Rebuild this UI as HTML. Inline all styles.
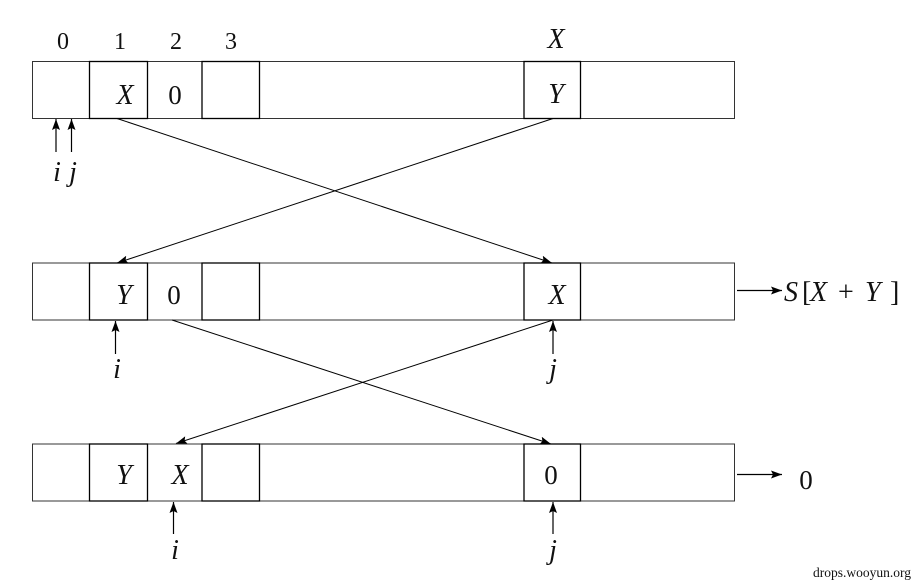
<!DOCTYPE html>
<html>
<head>
<meta charset="utf-8">
<style>
html,body{margin:0;padding:0;background:#fff;}
svg{display:block;}
text{font-family:"Liberation Serif","DejaVu Serif",serif;fill:#111;}
.m{font-style:italic;font-size:28px;}
.n{font-size:27px;}
.t{font-size:24px;}
.w{font-size:13.5px;}
</style>
</head>
<body>
<svg width="915" height="584" viewBox="0 0 915 584" xmlns="http://www.w3.org/2000/svg">
<defs>
<marker id="ah" viewBox="0 0 11 8" refX="11" refY="4" markerWidth="11" markerHeight="8" markerUnits="userSpaceOnUse" orient="auto">
<path d="M0,0 L11,4 L0,8 L2,4 Z" fill="#000"/>
</marker>
</defs>

<!-- top labels -->
<text class="t" x="63" y="49" text-anchor="middle">0</text>
<text class="t" x="120" y="49" text-anchor="middle">1</text>
<text class="t" x="176" y="49" text-anchor="middle">2</text>
<text class="t" x="231" y="49" text-anchor="middle">3</text>
<text class="m" x="556" y="48" text-anchor="middle">X</text>

<!-- Row 1 -->
<g fill="none">
<rect x="32.5" y="61.5" width="702" height="57" stroke="#333" stroke-width="1"/>
<line x1="147.5" y1="61.5" x2="147.5" y2="118.5" stroke="#333"/>
<rect x="89.5" y="61.5" width="58" height="57" stroke="#000" stroke-width="1.3"/>
<rect x="202" y="61.5" width="57.5" height="57" stroke="#000" stroke-width="1.3"/>
<rect x="524" y="61.5" width="56.5" height="57" stroke="#000" stroke-width="1.3"/>
</g>
<text class="m" x="125" y="104" text-anchor="middle">X</text>
<text class="n" x="175" y="104" text-anchor="middle">0</text>
<text class="m" x="556" y="103" text-anchor="middle">Y</text>

<line x1="56" y1="152" x2="56" y2="119" stroke="#000" stroke-width="1.2" marker-end="url(#ah)"/>
<line x1="71.5" y1="152" x2="71.5" y2="119" stroke="#000" stroke-width="1.2" marker-end="url(#ah)"/>
<text class="m" x="57" y="181" text-anchor="middle">i</text>
<text class="m" x="73" y="181" text-anchor="middle">j</text>

<!-- cross 1->2 -->
<line x1="117" y1="118.5" x2="552" y2="263" stroke="#000" stroke-width="1" marker-end="url(#ah)"/>
<line x1="553" y1="118.5" x2="117" y2="263" stroke="#000" stroke-width="1" marker-end="url(#ah)"/>

<!-- Row 2 -->
<g fill="none">
<rect x="32.5" y="263" width="702" height="57" stroke="#333" stroke-width="1"/>
<line x1="147.5" y1="263" x2="147.5" y2="320" stroke="#333"/>
<rect x="89.5" y="263" width="58" height="57" stroke="#000" stroke-width="1.3"/>
<rect x="202" y="263" width="57.5" height="57" stroke="#000" stroke-width="1.3"/>
<rect x="524" y="263" width="56.5" height="57" stroke="#000" stroke-width="1.3"/>
</g>
<text class="m" x="124" y="304" text-anchor="middle">Y</text>
<text class="n" x="174" y="304" text-anchor="middle">0</text>
<text class="m" x="557" y="304" text-anchor="middle">X</text>

<line x1="115.5" y1="354" x2="115.5" y2="321" stroke="#000" stroke-width="1.2" marker-end="url(#ah)"/>
<line x1="553" y1="354" x2="553" y2="321" stroke="#000" stroke-width="1.2" marker-end="url(#ah)"/>
<text class="m" x="117" y="378" text-anchor="middle">i</text>
<text class="m" x="553" y="378" text-anchor="middle">j</text>

<line x1="737" y1="290.5" x2="782" y2="290.5" stroke="#000" stroke-width="1.2" marker-end="url(#ah)"/>
<text class="m" y="301"><tspan x="784">S</tspan><tspan x="802" font-style="normal">[</tspan><tspan x="810">X</tspan><tspan x="838" font-style="normal">+</tspan><tspan x="865">Y</tspan><tspan x="890" font-style="normal">]</tspan></text>

<!-- cross 2->3 -->
<line x1="172" y1="320" x2="551" y2="444" stroke="#000" stroke-width="1" marker-end="url(#ah)"/>
<line x1="553" y1="320" x2="176" y2="443.5" stroke="#000" stroke-width="1" marker-end="url(#ah)"/>

<!-- Row 3 -->
<g fill="none">
<rect x="32.5" y="444" width="702" height="57" stroke="#333" stroke-width="1"/>
<line x1="147.5" y1="444" x2="147.5" y2="501" stroke="#333"/>
<rect x="89.5" y="444" width="58" height="57" stroke="#000" stroke-width="1.3"/>
<rect x="202" y="444" width="57.5" height="57" stroke="#000" stroke-width="1.3"/>
<rect x="524" y="444" width="56.5" height="57" stroke="#000" stroke-width="1.3"/>
</g>
<text class="m" x="124" y="484" text-anchor="middle">Y</text>
<text class="m" x="180" y="484" text-anchor="middle">X</text>
<text class="n" x="551" y="484" text-anchor="middle">0</text>

<line x1="173.5" y1="534" x2="173.5" y2="502" stroke="#000" stroke-width="1.2" marker-end="url(#ah)"/>
<line x1="553" y1="534" x2="553" y2="502" stroke="#000" stroke-width="1.2" marker-end="url(#ah)"/>
<text class="m" x="175" y="559" text-anchor="middle">i</text>
<text class="m" x="553" y="559" text-anchor="middle">j</text>

<line x1="737" y1="474.5" x2="782" y2="474.5" stroke="#000" stroke-width="1.2" marker-end="url(#ah)"/>
<text class="n" x="806" y="489" text-anchor="middle">0</text>

<text class="w" x="911" y="577" text-anchor="end">drops.wooyun.org</text>
</svg>
</body>
</html>
